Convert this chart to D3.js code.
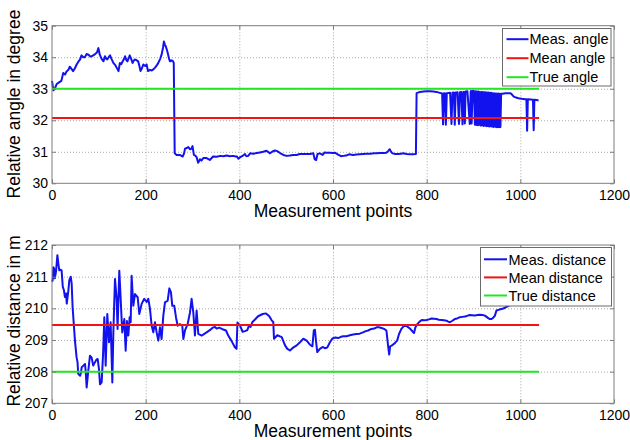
<!DOCTYPE html>
<html>
<head>
<meta charset="utf-8">
<script src="https://cdn.jsdelivr.net/npm/d3@7"></script>
<style>
  html, body { margin: 0; padding: 0; background: #fff; }
  svg { display: block; }
  text { font-family: Arial, "Liberation Sans", sans-serif; fill: #000; }
</style>
</head>
<body>
<svg id="chart" width="630" height="440"></svg>
<script>
// ---- data ----
const xTicks = [0, 200, 400, 600, 800, 1000, 1200];
const angleTicks = [30, 31, 32, 33, 34, 35];
const distTicks = [207, 208, 209, 210, 211, 212];
const refSpan = [0, 1040];

const meanAngle = 32.07;
const trueAngle = 33;
const meanDist = 209.47;
const trueDist = 208;

const angleLabels = ["Meas. angle", "Mean angle", "True angle"];
const distLabels = ["Meas. distance", "Mean distance", "True distance"];

// measured angle, [measurement index, degrees]
const anglePoints = [
  [0,33.25],[3,32.95],[6,33.0],[10,33.15],[15,33.2],[20,33.25],[24,33.5],[28,33.45],[31,33.55],[35,33.6],
  [38,33.7],[42,33.62],[45,33.56],[49,33.65],[52.6,33.77],[56,33.85],[60,33.93],[63,34.06],[67,34.0],[70,34.0],
  [74,34.1],[78,34.08],[82,34.02],[85,34.03],[88,34.06],[92,34.1],[96,34.15],[99,34.29],[102,34.08],[106,33.95],
  [110,33.87],[113,34.03],[116,33.95],[118,33.93],[121,34.0],[124,34.06],[127,33.95],[131,33.82],[135,33.75],[138,33.67],
  [142,33.56],[145,33.82],[148,33.78],[151,33.87],[154,33.95],[156,34.03],[159,33.9],[161,33.87],[164,33.98],[166,34.06],
  [169,33.95],[172,33.82],[175,33.9],[177,33.93],[181,33.9],[184,33.87],[187,33.7],[189,33.56],[192,33.65],[195,33.77],
  [199,33.72],[202,33.77],[205,33.56],[209,33.6],[213,33.58],[217,33.62],[220,33.67],[224,33.75],[227,33.82],[231,33.95],
  [234,34.08],[237,34.3],[239,34.5],[241,34.4],[243,34.34],[246,34.2],[248,34.08],[250,33.95],[252,33.87],[255,33.9],
  [258,33.88],[260,33.82],[261,32.3],[262,30.95],[266,30.9],[273,30.9],[279,30.85],[282,30.95],[284,31.1],[288,31.12],
  [291,31.15],[295,31.08],[298,31.1],[300,31.18],[303,30.9],[306,30.88],[309,30.82],[312,30.65],[316,30.76],[319,30.72],
  [323,30.8],[330,30.8],[337,30.74],[344,30.85],[352,30.84],[359,30.87],[366,30.86],[373,30.88],[380,30.86],[387,30.87],
  [392,30.85],[395,30.85],[398,30.78],[401,30.82],[406,30.86],[412,30.93],[415,30.86],[419,30.87],[423,30.95],[430,30.94],
  [437,30.96],[444,30.98],[451,31.0],[458,31.03],[462,30.99],[465,30.95],[470,31.0],[476,31.04],[481,31.02],[487,30.96],
  [494,30.9],[501,30.87],[508,30.88],[515,30.9],[522,30.9],[529,30.93],[536,30.93],[544,30.93],[551,30.93],[558,30.95],
  [561,30.76],[564,30.74],[567,30.93],[572,30.95],[578,30.9],[582,30.98],[586,30.97],[593,30.97],[600,30.96],[604,30.97],
  [610,30.92],[617,30.86],[622,30.87],[628,30.88],[634,30.92],[643,30.9],[650,30.91],[657,30.92],[664,30.93],[672,30.94],
  [680,30.94],[687,30.95],[693,30.95],[700,30.96],[707,30.96],[714,30.97],[718,31.03],[721,31.08],[724,31.0],[727,30.95],
  [733,30.93],[739,30.93],[745,30.94],[750,30.95],[757,30.93],[764,30.92],[770,30.92],[777,30.93],[778.5,32.86],[786,32.9],
  [793,32.91],[800,32.92],[807,32.92],[814,32.91],[821,32.9],[828,32.87],[833,32.85],[835,31.87],[837,32.86],[839,32.86],
  [841,31.86],[843,32.86],[850,32.87],[853,31.88],[855,32.87],[858,32.88],[860,31.86],[862,32.88],[866,32.89],[869,31.88],
  [871,32.89],[874,32.9],[876.5,31.87],[878.5,32.9],[880,32.9],[881.5,31.9],[883,32.91],[887,32.92],[892,31.88],[894,32.92],
  [895,32.93],[896,31.9],[898,32.93],[901,32.93],[903,31.86],[905,32.92],[906.5,31.85],[908,32.91],[909.5,31.84],[911,32.91],
  [912.5,31.86],[914,32.9],[915.5,31.83],[917,32.9],[918.5,31.84],[920,32.9],[921.5,31.82],[923,32.89],[924.5,31.83],[926,32.89],
  [927.5,31.81],[929,32.88],[930.5,31.82],[932,32.88],[933.5,31.8],[935,32.87],[936.5,31.81],[938,32.87],[939.5,31.8],[941,32.86],
  [942.5,31.79],[944,32.86],[945.5,31.8],[947,32.85],[948.5,31.78],[950,32.85],[951.5,31.79],[953,32.85],[954.5,31.78],[956,32.84],
  [957.5,31.79],[959,32.84],[962,32.84],[968,32.86],[975,32.86],[979,32.86],[983,32.8],[986,32.75],[991,32.72],[996,32.7],
  [1003,32.68],[1010,32.67],[1013,32.67],[1014.5,31.67],[1016,32.67],[1022,32.66],[1027,32.65],[1028.5,31.68],[1030,32.65],[1035,32.64],
  [1039,32.63]
];

// measured distance, [measurement index, metres]
const distPoints = [
  [0,210.84],[1.5,210.89],[3,211.3],[4.5,211.26],[6,210.95],[8.5,211.15],[11.5,211.68],[13.5,211.42],[15.5,211.2],[18,211.22],
  [20.5,211.2],[23,210.68],[25.5,210.57],[27.5,210.36],[30,210.47],[31.5,210.15],[35,210.57],[37,210.89],[40,211.0],[42,210.78],
  [44,210.04],[47,209.4],[49,208.98],[52.5,208.45],[54.5,208.3],[56,207.93],[60,207.87],[61.5,207.95],[63.5,208.14],[67,208.19],
  [70.5,208.24],[72,208.0],[74,207.5],[77.5,208.03],[81,208.5],[84.5,208.45],[88,208.19],[91.8,208.3],[95,208.38],[97.5,208.4],
  [100.3,208.08],[102.5,207.6],[106,207.66],[108.9,208.5],[111.7,209.72],[114.6,208.19],[118.1,209.82],[121.7,208.93],[125.2,209.56],[128.8,207.66],
  [131,209.24],[134.5,210.93],[138,210.3],[140,209.35],[143.7,211.19],[146.6,210.3],[150,209.24],[154.4,209.66],[157.3,208.66],[160,209.6],
  [163,209.14],[165.8,209.72],[168,209.56],[170,211.03],[173.6,210.08],[177.2,210.45],[182.9,210.35],[186.4,209.82],[191.4,210.14],[197,210.3],
  [202,210.2],[205.6,210.3],[209.2,209.98],[212.8,209.45],[216.3,209.24],[219.9,209.56],[223.4,209.24],[227,208.98],[230.5,209.4],[234,209.03],
  [237.7,209.77],[241.2,210.19],[247,210.24],[250.5,210.63],[254,210.5],[256.9,210.08],[261.1,210.08],[264.7,209.72],[268.3,209.45],[273.2,209.5],
  [278.2,209.45],[280.4,209.03],[283.9,209.3],[289.6,209.5],[294.6,209.87],[298.1,210.3],[301.7,209.87],[305.2,209.14],[308.8,209.93],[312.4,209.19],
  [319.5,209.14],[330,209.24],[337,209.31],[343,209.39],[348,209.41],[351.5,209.36],[357,209.39],[364,209.34],[371.5,209.3],[376,209.15],
  [383,208.98],[390.5,208.77],[394,208.72],[396,209.55],[401,209.47],[407,209.26],[412,209.28],[417,209.31],[421,209.47],[424,209.41],
  [428,209.57],[433,209.64],[440,209.75],[450,209.82],[457,209.84],[464,209.75],[469,209.62],[472.5,209.57],[474,209.04],[481,209.15],
  [490.5,209.09],[497.6,208.83],[502.5,208.72],[508,208.67],[514,208.75],[522.5,208.83],[529.5,208.93],[536.6,209.04],[543.7,208.98],[550.8,208.85],
  [556,208.8],[559,209.3],[561.5,209.32],[563.6,208.98],[566.4,208.62],[572,208.72],[577.8,208.78],[582.7,208.74],[587.7,208.76],[593.4,208.93],
  [599,209.05],[605,209.08],[611,209.06],[617,209.1],[622,209.12],[629,209.12],[636,209.15],[643,209.17],[650,209.19],[657,209.2],
  [664,209.24],[670,209.28],[675,209.3],[682,209.35],[688,209.36],[693,209.4],[698,209.4],[703.6,209.38],[709,209.35],[714,209.3],
  [718,208.77],[720,208.54],[722,208.8],[725,208.82],[732,208.9],[737,208.98],[741,209.19],[746,209.35],[750,209.42],[753.6,209.45],
  [757,209.44],[760.8,209.4],[765,209.35],[768,209.3],[773,209.22],[776,209.4],[780,209.5],[785,209.58],[789.5,209.63],[795,209.62],
  [800,209.63],[805,209.65],[810.4,209.68],[816,209.67],[821,209.66],[826,209.64],[832,209.63],[837,209.62],[842.4,209.61],[846,209.58],
  [849.5,209.56],[854,209.6],[860,209.66],[865,209.68],[871,209.72],[876,209.73],[881.4,209.74],[886,209.76],[892,209.79],[897,209.78],
  [903,209.77],[908,209.79],[913.7,209.8],[919,209.79],[924.4,209.77],[928,209.73],[931.5,209.69],[935,209.66],[938.6,209.66],[942,209.7],
  [945.7,209.77],[949,209.93],[955,209.96],[960,209.98],[965,210.0],[970.6,210.05],[980,210.12],[990,210.2],[1000,210.25],[1010,210.3],
  [1020,210.35],[1030,210.4],[1040,210.45]
];

// ---- styling ----
const BLUE = "#1212ee";
const RED = "#f01414";
const GREEN = "#22e622";
const AXIS = "#7c7c7c";
const GRID = "#a8a8a8";
const FONT = 'Arial, "Liberation Sans", sans-serif';

const svg = d3.select("#chart");
const plotLeft = 52, plotRight = 614;
const x = d3.scaleLinear().domain([0, 1200]).range([plotLeft, plotRight]);
const intFmt = d3.format("d");

function drawPanel(cfg) {
  const y = d3.scaleLinear().domain(cfg.domain).range([cfg.bottom, cfg.top]);
  const h = cfg.bottom - cfg.top;
  const w = plotRight - plotLeft;
  const g = svg.append("g");

  // dotted grid
  const gx = g.append("g").attr("transform", `translate(0,${cfg.bottom})`)
    .call(d3.axisBottom(x).tickValues(xTicks.slice(1, -1)).tickSize(-h).tickFormat(""));
  const gy = g.append("g").attr("transform", `translate(${plotLeft},0)`)
    .call(d3.axisLeft(y).tickValues(cfg.ticks.slice(1, -1)).tickSize(-w).tickFormat(""));
  [gx, gy].forEach(a => {
    a.select(".domain").remove();
    a.selectAll("line").attr("stroke", GRID).attr("stroke-width", 1).attr("stroke-dasharray", "1,2");
  });

  // measured series
  const line = d3.line().x(d => x(d[0])).y(d => y(d[1]));
  g.append("path").datum(cfg.points)
    .attr("d", line).attr("fill", "none")
    .attr("stroke", BLUE).attr("stroke-width", 2).attr("stroke-linejoin", "round");

  // mean and true reference lines
  [[cfg.mean, RED], [cfg.truth, GREEN]].forEach(([v, c]) => {
    g.append("path").datum(refSpan.map(t => [t, v]))
      .attr("d", line).attr("fill", "none").attr("stroke", c).attr("stroke-width", 2);
  });

  // axes: inward ticks on every side, labels bottom and left
  const bottomAxis = g.append("g").attr("transform", `translate(0,${cfg.bottom})`)
    .call(d3.axisBottom(x).tickValues(xTicks).tickFormat(intFmt).tickSize(-4).tickPadding(6.8));
  const leftAxis = g.append("g").attr("transform", `translate(${plotLeft},0)`)
    .call(d3.axisLeft(y).tickValues(cfg.ticks).tickFormat(intFmt).tickSize(-4).tickPadding(4));
  const topAxis = g.append("g").attr("transform", `translate(0,${cfg.top})`)
    .call(d3.axisTop(x).tickValues(xTicks).tickSize(-4).tickFormat(""));
  const rightAxis = g.append("g").attr("transform", `translate(${plotRight},0)`)
    .call(d3.axisRight(y).tickValues(cfg.ticks).tickSize(-4).tickFormat(""));
  [bottomAxis, leftAxis, topAxis, rightAxis].forEach(a => {
    a.select(".domain").remove();
    a.selectAll("line").attr("stroke", AXIS);
    a.selectAll("text").attr("font-size", 14).attr("fill", "#000").attr("font-family", FONT);
  });

  // frame
  g.append("rect").attr("x", plotLeft).attr("y", cfg.top).attr("width", w).attr("height", h)
    .attr("fill", "none").attr("stroke", AXIS).attr("stroke-width", 1);

  // titles
  g.append("text").attr("x", (plotLeft + plotRight) / 2).attr("y", cfg.bottom + 33.5)
    .attr("text-anchor", "middle").attr("font-size", 17.5).text("Measurement points");
  g.append("text")
    .attr("transform", `translate(20,${cfg.titleY}) rotate(-90)`)
    .attr("text-anchor", "middle").attr("font-size", 17.5).text(cfg.yTitle);

  // legend
  const L = cfg.legend;
  const lg = g.append("g");
  lg.append("rect").attr("x", L.x0).attr("y", L.y0).attr("width", L.x1 - L.x0).attr("height", L.y1 - L.y0)
    .attr("fill", "#fff").attr("stroke", "#6a6a6a").attr("stroke-width", 1);
  const colors = [BLUE, RED, GREEN];
  cfg.labels.forEach((lab, i) => {
    const ry = L.rows[i];
    lg.append("line").attr("x1", L.lineX0).attr("x2", L.lineX1).attr("y1", ry).attr("y2", ry)
      .attr("stroke", colors[i]).attr("stroke-width", 2);
    lg.append("text").attr("x", L.textX).attr("y", ry + 5.2).attr("font-size", 14.5).text(lab);
  });
}

drawPanel({
  domain: [30, 35], ticks: angleTicks, top: 25.7, bottom: 183.3,
  points: anglePoints, mean: meanAngle, truth: trueAngle,
  yTitle: "Relative angle in degree", titleY: 104, labels: angleLabels,
  legend: { x0: 502.5, x1: 611, y0: 28.5, y1: 86, rows: [39.2, 58.2, 77.2], lineX0: 506.5, lineX1: 528.5, textX: 529.5 }
});

drawPanel({
  domain: [207, 212], ticks: distTicks, top: 245, bottom: 403.3,
  points: distPoints, mean: meanDist, truth: trueDist,
  yTitle: "Relative distance in m", titleY: 321, labels: distLabels,
  legend: { x0: 480.5, x1: 611.5, y0: 247.5, y1: 306, rows: [259.3, 277.4, 295.5], lineX0: 484, lineX1: 507, textX: 508.5 }
});
</script>
</body>
</html>
